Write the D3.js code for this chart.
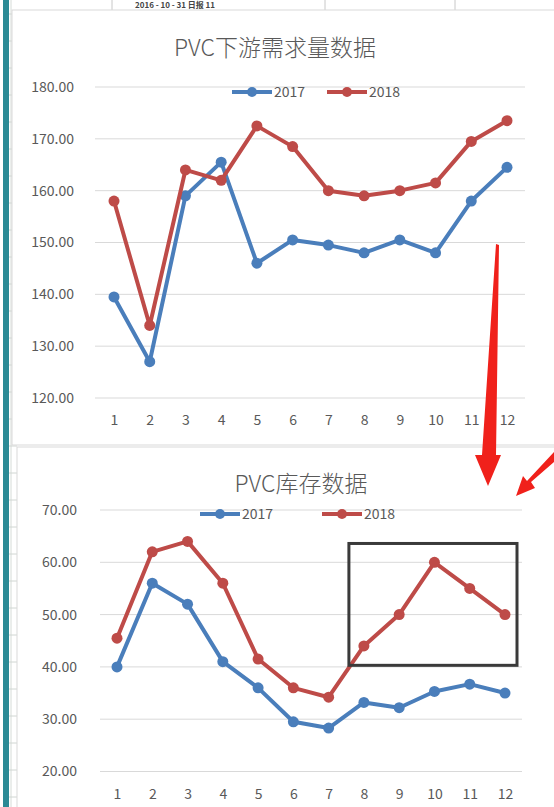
<!DOCTYPE html>
<html>
<head>
<meta charset="utf-8">
<script src="https://cdn.jsdelivr.net/npm/d3@7"></script>
<style>
  body { margin: 0; background: #fff; }
  svg { display: block; font-family: "Noto Sans CJK SC", "Noto Sans", sans-serif; }
</style>
</head>
<body>
<svg id="chart" width="554" height="807"></svg>
<script>
const months = [1, 2, 3, 4, 5, 6, 7, 8, 9, 10, 11, 12];
const seriesNames = ["2017", "2018"];

// PVC下游需求量数据
const demand2017 = [139.5, 127, 159, 165.5, 146, 150.5, 149.5, 148, 150.5, 148, 158, 164.5];
const demand2018 = [158, 134, 164, 162, 172.5, 168.5, 160, 159, 160, 161.5, 169.5, 173.5];
const demandTicks = [120, 130, 140, 150, 160, 170, 180];

// PVC库存数据
const stock2017 = [40, 56, 52, 41, 36, 29.5, 28.3, 33.2, 32.2, 35.3, 36.7, 35];
const stock2018 = [45.5, 62, 64, 56, 41.5, 36, 34.2, 44, 50, 60, 55, 50];
const stockTicks = [20, 30, 40, 50, 60, 70];

const colors = { "2017": "#4a7ebb", "2018": "#be4b48" };
const svg = d3.select("#chart");

// spreadsheet behind the charts
svg.append("rect").attr("x", 3).attr("y", 0).attr("width", 6).attr("height", 807).attr("fill", "#2b8a95");
svg.append("line").attr("x1", 11).attr("x2", 11).attr("y1", 0).attr("y2", 807).attr("stroke", "#d6dcd8");
svg.append("g").selectAll("line")
  .data(d3.range(14, 807, 27))
  .join("line")
  .attr("x1", 9).attr("x2", 17).attr("y1", d => d).attr("y2", d => d)
  .attr("stroke", "#d0d6d2");
svg.append("g").selectAll("line")
  .data([112, 325, 455])
  .join("line")
  .attr("x1", d => d).attr("x2", d => d).attr("y1", 0).attr("y2", 12)
  .attr("stroke", "#c8c8c8");
svg.append("text").attr("x", 135).attr("y", 8).attr("font-size", 8).attr("font-weight", "bold")
  .attr("fill", "#444").text("2016 - 10 - 31  日报  11");

function drawChart(opt) {
  const g = svg.append("g");
  g.append("rect")
    .attr("x", opt.box[0]).attr("y", opt.box[1])
    .attr("width", opt.box[2]).attr("height", opt.box[3])
    .attr("fill", "#fff").attr("stroke", "#d9d9d9");

  const x = d3.scalePoint().domain(months).range(opt.xRange);
  const y = d3.scaleLinear().domain(opt.yDomain).range(opt.yRange);

  // grid
  g.append("g").selectAll("line")
    .data(opt.ticks)
    .join("line")
    .attr("x1", opt.gridX[0]).attr("x2", opt.gridX[1])
    .attr("y1", d => y(d)).attr("y2", d => y(d))
    .attr("stroke", "#d9d9d9").attr("stroke-width", 1);

  // y axis labels
  g.append("g")
    .attr("transform", `translate(${opt.yLabelX},0)`)
    .call(d3.axisLeft(y).tickValues(opt.ticks).tickFormat(d3.format(".2f")).tickSize(0))
    .call(a => a.select(".domain").remove())
    .call(a => a.selectAll("text").attr("fill", "#595959").attr("font-size", 14)
      .attr("font-family", "'Noto Sans CJK SC', sans-serif"));

  // x axis labels
  g.append("g")
    .attr("transform", `translate(0,${opt.xLabelY})`)
    .call(d3.axisBottom(x).tickSize(0))
    .call(a => a.select(".domain").remove())
    .call(a => a.selectAll("text").attr("fill", "#595959").attr("font-size", 14)
      .attr("font-family", "'Noto Sans CJK SC', sans-serif"));

  // title
  g.append("text")
    .attr("x", opt.titleX).attr("y", opt.titleY)
    .attr("text-anchor", "middle").attr("font-size", 23).attr("font-weight", 300)
    .attr("fill", "#595959")
    .text(opt.title);

  // series
  const line = d3.line().x((d, i) => x(months[i])).y(d => y(d));
  opt.series.forEach((vals, k) => {
    const c = colors[seriesNames[k]];
    g.append("path").datum(vals)
      .attr("d", line).attr("fill", "none")
      .attr("stroke", c).attr("stroke-width", 4).attr("stroke-linejoin", "round");
    g.append("g").selectAll("circle")
      .data(vals)
      .join("circle")
      .attr("cx", (d, i) => x(months[i])).attr("cy", d => y(d))
      .attr("r", 5.5).attr("fill", c);
  });

  // legend
  seriesNames.forEach((name, k) => {
    const lx = opt.legend[k], ly = opt.legendY;
    g.append("line").attr("x1", lx).attr("x2", lx + 40).attr("y1", ly).attr("y2", ly)
      .attr("stroke", colors[name]).attr("stroke-width", 4);
    g.append("circle").attr("cx", lx + 20).attr("cy", ly).attr("r", 5).attr("fill", colors[name]);
    g.append("text").attr("x", lx + 42).attr("y", ly + 5)
      .attr("font-size", 14).attr("fill", "#595959").text(name);
  });
  return { x, y };
}

drawChart({
  box: [12, 10, 560, 435],
  xRange: [114, 507], yDomain: [120, 180], yRange: [398, 87],
  gridX: [95, 525], ticks: demandTicks, yLabelX: 77, xLabelY: 412,
  title: "PVC下游需求量数据", titleX: 275, titleY: 56,
  series: [demand2017, demand2018],
  legend: [232, 327], legendY: 92
});

const bottom = drawChart({
  box: [17, 447, 560, 380],
  xRange: [117, 505], yDomain: [20, 70], yRange: [771.5, 510],
  gridX: [100, 522], ticks: stockTicks, yLabelX: 80, xLabelY: 786,
  title: "PVC库存数据", titleX: 301, titleY: 492,
  series: [stock2017, stock2018],
  legend: [200, 322], legendY: 514
});

// highlight box around months 8-12
svg.append("rect")
  .attr("x", bottom.x(8) - 15).attr("y", bottom.y(63.6))
  .attr("width", bottom.x(12) + 12 - (bottom.x(8) - 15))
  .attr("height", bottom.y(40.3) - bottom.y(63.6))
  .attr("fill", "none").attr("stroke", "#3a3a3a").attr("stroke-width", 3);

// red arrows
const arrows = svg.append("g").attr("fill", "#f0211b");
arrows.append("path").attr("d", "M496,244 L499,245 L496,455 L501,455 L488,486 L475,455 L482,455 Z");
arrows.append("path").attr("d", "M554,452 L554,462 L531,482 L535,488 L516,496 L523,476 L527,481 Z");
</script>
</body>
</html>
